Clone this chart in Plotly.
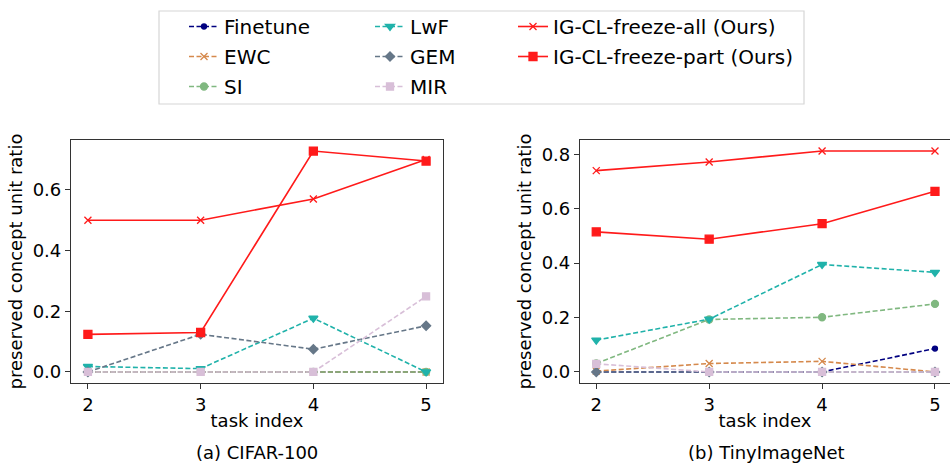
import plotly.graph_objects as go

tasks = [2, 3, 4, 5]
x_ticks = [2, 3, 4, 5]

methods = ["Finetune", "EWC", "SI", "LwF", "GEM", "MIR",
           "IG-CL-freeze-all (Ours)", "IG-CL-freeze-part (Ours)"]

# (a) CIFAR-100
cifar_finetune = [0.0, 0.0, 0.0, 0.0]
cifar_ewc = [0.0, 0.0, 0.0, 0.0]
cifar_si = [0.0, 0.0, 0.0, 0.0]
cifar_lwf = [0.018, 0.011, 0.177, 0.0]
cifar_gem = [0.0, 0.124, 0.075, 0.152]
cifar_mir = [0.0, 0.0, 0.0, 0.249]
cifar_all = [0.50, 0.50, 0.57, 0.70]
cifar_part = [0.124, 0.130, 0.728, 0.695]

# (b) TinyImageNet
tiny_finetune = [0.0, 0.0, 0.0, 0.086]
tiny_ewc = [0.003, 0.031, 0.039, 0.0]
tiny_si = [0.031, 0.193, 0.201, 0.250]
tiny_lwf = [0.117, 0.194, 0.395, 0.366]
tiny_gem = [0.0, 0.0, 0.0, 0.0]
tiny_mir = [0.030, 0.0, 0.0, 0.0]
tiny_all = [0.740, 0.772, 0.812, 0.812]
tiny_part = [0.515, 0.488, 0.545, 0.664]

cifar = [cifar_finetune, cifar_ewc, cifar_si, cifar_lwf, cifar_gem, cifar_mir, cifar_all, cifar_part]
tiny = [tiny_finetune, tiny_ewc, tiny_si, tiny_lwf, tiny_gem, tiny_mir, tiny_all, tiny_part]

colors = ["#000080", "#d5894c", "#80b880", "#20b2aa", "#667788", "#d8bfd8", "#ff1a1a", "#ff1a1a"]
symbols = ["circle", "x-thin-open", "circle", "triangle-down", "diamond", "square", "x-thin-open", "square"]
msizes = [5, 7, 7, 8, 7, 7, 7, 8]
dashes = ["5px,2.5px"] * 6 + ["solid", "solid"]
legend_ids = ["legend", "legend", "legend", "legend2", "legend2", "legend2", "legend3", "legend3"]

FONT = "DejaVu Sans"
fig = go.Figure()

for data, xa, ya, show in [(cifar, "x", "y", True), (tiny, "x2", "y2", False)]:
    for i, name in enumerate(methods):
        fig.add_trace(go.Scatter(
            x=tasks, y=data[i], name=name, mode="lines+markers",
            line=dict(color=colors[i], width=1.6, dash=dashes[i]),
            marker=dict(symbol=symbols[i], size=msizes[i], color=colors[i],
                        line=dict(color=colors[i], width=1.3)),
            xaxis=xa, yaxis=ya, showlegend=show, legend=legend_ids[i],
            legendgroup=name,
        ))

def yrange(series):
    vals = [v for s in series for v in s]
    lo, hi = min(vals), max(vals)
    pad = (hi - lo) * 0.05
    return [lo - pad, hi + pad]

W, H = 950, 463
def px(x):
    return x / W
def py(y):
    return (H - y) / H

axis_common = dict(showline=True, linecolor="#333", linewidth=1.2, ticks="outside",
                   ticklen=5, tickwidth=1.2, tickcolor="#333", showgrid=False, zeroline=False,
                   tickfont=dict(family=FONT, size=18, color="black"))

legend_common = dict(font=dict(family=FONT, size=20, color="black"), bgcolor="rgba(0,0,0,0)",
                     xanchor="left", yanchor="top", orientation="v",
                     traceorder="grouped", tracegroupgap=1, itemwidth=30)

fig.update_layout(
    width=W, height=H, margin=dict(l=0, r=0, t=0, b=0),
    paper_bgcolor="white", plot_bgcolor="white",
    font=dict(family=FONT, size=18, color="black"),
    xaxis=dict(domain=[px(71), px(443)], range=[1.85, 5.15], tickvals=x_ticks,
               title=dict(text="task index", standoff=0, font=dict(size=18)), anchor="y", mirror=True, **axis_common),
    yaxis=dict(domain=[py(383), py(140)], range=yrange(cifar), dtick=0.2, tickformat=".1f",
               title=dict(text="preserved concept unit ratio", standoff=5, font=dict(size=18)), anchor="x", mirror=True, **axis_common),
    xaxis2=dict(domain=[px(580), 1.0], range=[1.856, 5.133], tickvals=x_ticks,
                title=dict(text="task index", standoff=0, font=dict(size=18)), anchor="y2", mirror=True, **axis_common),
    yaxis2=dict(domain=[py(383), py(140)], range=yrange(tiny), dtick=0.2, tickformat=".1f",
                title=dict(text="preserved concept unit ratio", standoff=5, font=dict(size=18)), anchor="x2", **axis_common),
    legend=dict(x=px(184), y=py(7), **legend_common),
    legend2=dict(x=px(370), y=py(7), **legend_common),
    legend3=dict(x=px(513), y=py(7), **legend_common),
    shapes=[dict(type="rect", xref="paper", yref="paper", x0=px(159), x1=px(804),
                 y0=py(104), y1=py(11), line=dict(color="#d6d6d6", width=1.2))],
    annotations=[
        dict(text="(a) CIFAR-100", x=px(257), y=py(452), xref="paper", yref="paper",
             showarrow=False, xanchor="center", yanchor="middle", font=dict(family=FONT, size=18)),
        dict(text="(b) TinyImageNet", x=px(766), y=py(452), xref="paper", yref="paper",
             showarrow=False, xanchor="center", yanchor="middle", font=dict(family=FONT, size=18)),
    ],
)

fig.write_html("out.html", config={"displayModeBar": False},
               post_script="document.body.style.margin='0px'; document.body.style.overflow='hidden';")
